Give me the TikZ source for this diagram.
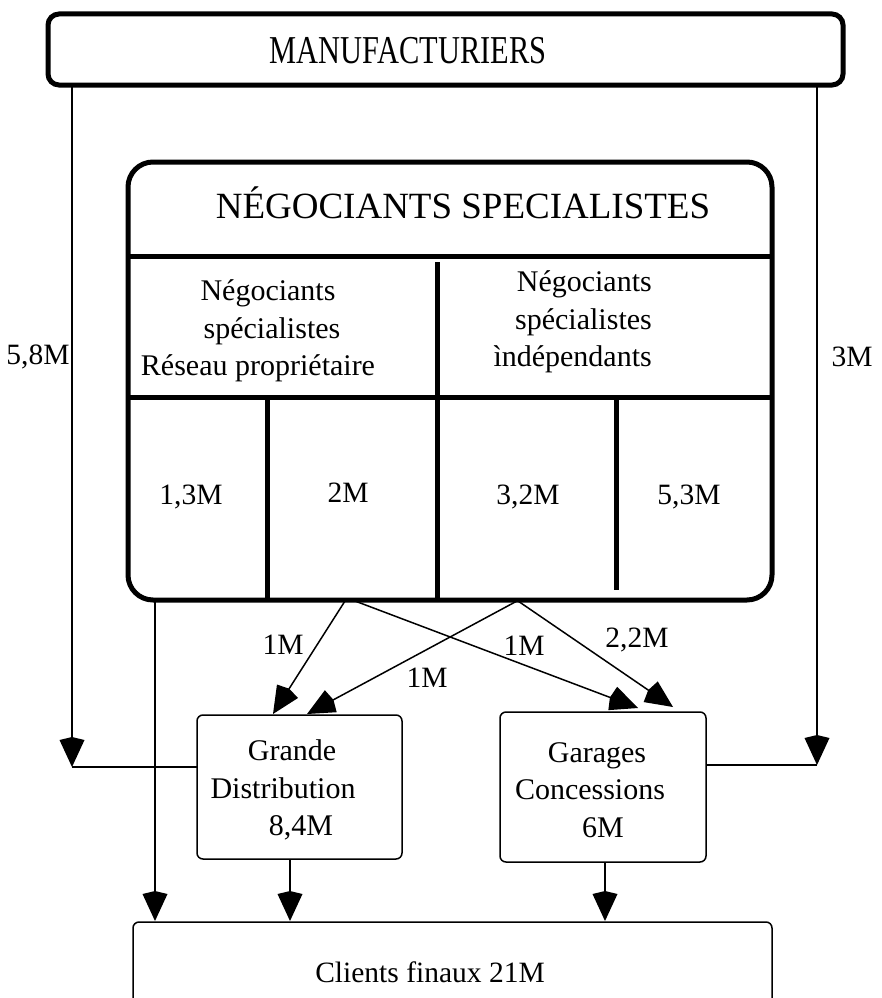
\documentclass[tikz,border=0pt]{standalone}
\usepackage{fontspec}
\setmainfont{Liberation Serif}
\newfontfamily\condfont[FakeStretch=0.77]{Liberation Serif}
\usetikzlibrary{arrows.meta}
\begin{document}
\begin{tikzpicture}[x=1pt,y=-1pt,
  thickbox/.style={draw,line width=5pt,rounded corners=#1},
  thinbox/.style={draw,line width=1.5pt,rounded corners=6pt},
  divider/.style={line width=5pt},
  flow/.style={line width=1.5pt,-{Kite[length=30pt,width=25pt,inset=3pt]}},
  plain/.style={line width=1.5pt},
  lbl/.style={font=\fontsize{29.5}{36}\selectfont,inner sep=0pt},
  cell/.style={font=\fontsize{30}{37.5}\selectfont,inner sep=0pt}]
\useasboundingbox (0,0) rectangle (882,998);

% manufacturers
\draw[thickbox=11pt] (48,14) rectangle (843,85);
\node[inner sep=0pt,font=\condfont\fontsize{39.5}{44}\selectfont] (manu) at (408,51) {MANUFACTURIERS};

% specialist traders block
\draw[thickbox=25pt] (128,162) rectangle (772,600);
\node[font=\fontsize{37}{44}\selectfont,inner sep=0pt] (neg) at (463,203) {NÉGOCIANTS SPECIALISTES};
\draw[divider] (128,256) -- (772,256);
\draw[divider] (128,397) -- (772,397);
\draw[divider] (437,262) -- (437,600);
\draw[divider] (267,397) -- (267,600);
\draw[divider] (616,400) -- (616,590);
\node[cell,align=center] (prop) at (258,331)
  {\hspace*{20pt}Négociants\\\hspace*{28pt}spécialistes\\Réseau propriétaire};
\node[cell,align=right,anchor=east] (indep) at (652,322)
  {Négociants\\spécialistes\\ìndépendants};
\node[lbl] (c1) at (191,497) {1,3M};
\node[lbl] (c2) at (348,493) {2M};
\node[lbl] (c3) at (528,497) {3,2M};
\node[lbl] (c4) at (689,497) {5,3M};

% intermediate channels
\draw[thinbox] (197,715) rectangle (402,859);
\node[cell,align=center] (gd) at (283,790)
  {\hspace*{18pt}Grande\\Distribution\\\hspace*{36pt}8,4M};
\draw[thinbox] (500,712) rectangle (706,862);
\node[cell,align=center] (gc) at (590,790)
  {\hspace*{14pt}Garages\\Concessions\\\hspace*{26pt}6M};
\coordinate (gdW) at (197,767);
\coordinate (gcE) at (706,765);
\coordinate (gdT1) at (273,714);
\coordinate (gdT2) at (307,714);
\coordinate (gcT1) at (638,708);
\coordinate (gcT2) at (673,707);
\coordinate (gdB) at (290,859);
\coordinate (gcB) at (605,862);

% end customers
\draw[thinbox] (133,922) rectangle (772,1012);
\node[lbl] (cli) at (430,972) {Clients finaux 21M};
\coordinate (cliA) at (155,921);
\coordinate (cliB) at (290,921);
\coordinate (cliC) at (605,921);

% direct flows from manufacturers
\coordinate (mL) at (72,85);
\coordinate (mR) at (817,85);
\coordinate (jL) at (72,767);
\coordinate (jR) at (817,765);
\draw[flow] (mL) -- (jL);
\draw[flow] (mR) -- (jR);
\draw[plain] (jL) -- (gdW);
\draw[plain] (gcE) -- (jR);
\node[lbl] (l58) at (38,357) {5,8M};
\node[lbl] (l3) at (852,357) {3M};

% flows from the traders
\coordinate (nA) at (345,601);
\coordinate (nB) at (355,601);
\coordinate (nC) at (517,601);
\coordinate (nD) at (518,601);
\coordinate (nL) at (155,601);
\draw[flow] (nA) -- (gdT1);
\draw[flow] (nB) -- (gcT1);
\draw[flow] (nC) -- (gdT2);
\draw[flow] (nD) -- (gcT2);
\draw[flow] (nL) -- (cliA);
\node[lbl] (f1) at (283,645) {1M};
\node[lbl] (f2) at (524,646) {1M};
\node[lbl] (f3) at (427,678) {1M};
\node[lbl] (f4) at (637,640) {2,2M};

% to end customers
\draw[flow] (gdB) -- (cliB);
\draw[flow] (gcB) -- (cliC);
\end{tikzpicture}
\end{document}
